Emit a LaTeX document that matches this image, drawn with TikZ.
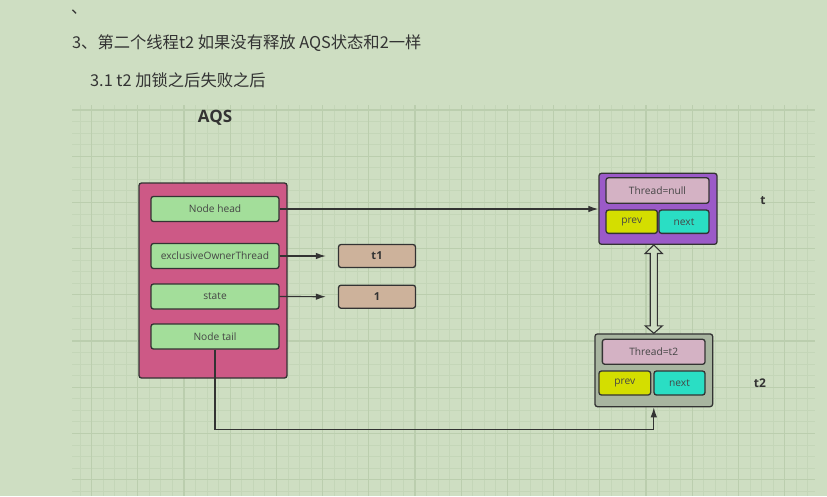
\documentclass[tikz,border=0pt]{standalone}
\usepackage{fontspec}
\setmainfont{Noto Sans CJK SC}
\newfontfamily\lat{Open Sans}
\usetikzlibrary{arrows.meta,calc}
\definecolor{bg}{HTML}{CEDEC2}
\definecolor{gminor}{HTML}{C4D6B8}
\definecolor{gmajor}{HTML}{BBCEAE}
\definecolor{dk}{HTML}{333333}
\definecolor{txt}{HTML}{454545}
\definecolor{aqspink}{HTML}{CD5986}
\definecolor{fieldgreen}{HTML}{A3DE9A}
\definecolor{tan}{HTML}{CDB29B}
\definecolor{purp}{HTML}{9B5AC8}
\definecolor{mauve}{HTML}{D4B2C4}
\definecolor{yel}{HTML}{D4DE00}
\definecolor{cyn}{HTML}{2ADEC4}
\definecolor{graybox}{HTML}{A8B5A0}
\tikzset{
  minorline/.style={draw=gminor, line width=0.8pt},
  majorline/.style={draw=gmajor, line width=1.1pt},
  box/.style={draw=dk, line width=1.3pt, rounded corners=2.5pt, inner sep=0pt, text=txt,
    font=\lat\fontsize{10.2}{12}\selectfont},
  field/.style={box, fill=fieldgreen, minimum width=128pt, minimum height=25pt},
  valbox/.style={box, fill=tan, minimum width=77pt, minimum height=23pt, text=dk,
    font=\lat\bfseries\fontsize{11}{12}\selectfont},
  arr/.style={draw=dk, line width=1.2pt, -{Latex[length=10pt,width=6.5pt]}},
  dbl/.style={draw=dk, line width=1.1pt, fill=bg, line join=miter},
  lbl/.style={text=dk, font=\lat\bfseries\fontsize{12}{14}\selectfont, inner sep=0pt},
  titletext/.style={text=dk, inner sep=0pt, font=\fontsize{16.3}{19}\selectfont}
}
\begin{document}
\begin{tikzpicture}[x=1pt,y=-1pt]
\fill[bg] (0,0) rectangle (827,496);
\useasboundingbox (0,0) rectangle (827,496);
% grid
\foreach \k in {0,...,63} {
  \pgfmathsetmacro\xx{80+11.55*\k}
  \draw[minorline] (\xx,105) -- (\xx,496);
}
\foreach \k in {0,...,33} {
  \pgfmathsetmacro\yy{110+11.55*\k}
  \draw[minorline] (72,\yy) -- (815,\yy);
}
\foreach \k in {0,...,15} {
  \pgfmathsetmacro\xx{91.55+46.2*\k}
  \draw[majorline] (\xx,105) -- (\xx,496);
}
\foreach \k in {0,...,8} {
  \pgfmathsetmacro\yy{110+46.2*\k}
  \draw[majorline] (72,\yy) -- (815,\yy);
}
% texts at top
\node[titletext, anchor=base west] (comma) at (71,13) {、};
\node[titletext, anchor=base west] (title) at (72,48.5) {3、第二个线程t2 如果没有释放 AQS状态和2一样};
\node[titletext, anchor=base west] (sub) at (90,86.5) {3.1 t2 加锁之后失败之后};
\node[text=dk, inner sep=0pt, font=\lat\bfseries\fontsize{17}{19}\selectfont] (aqslbl) at (215,117.5) {AQS};
% AQS box
\node[box, fill=aqspink, minimum width=148pt, minimum height=195pt] (aqs) at (213,280.5) {};
\node[field] (head) at (215,209) {Node head};
\node[field] (excl) at (215,256) {exclusiveOwnerThread};
\node[field] (state) at (215,296.5) {state};
\node[field] (tail) at (215,336.5) {Node tail};
\node[valbox] (t1) at (377,256) {t1};
\node[valbox] (one) at (377,296.7) {1};
% t node
\node[box, fill=purp, minimum width=118pt, minimum height=71pt] (tbox) at (658,208.8) {};
\node[box, fill=mauve, minimum width=103pt, minimum height=25.5pt] (tthread) at (657.5,190.5) {Thread=null};
\node[box, fill=yel, minimum width=51.3pt, minimum height=23.3pt] (tprev) at (631.7,221.7) {prev};
\node[box, fill=cyn, minimum width=50pt, minimum height=23.3pt] (tnext) at (684,221.7) {next};
\node[lbl] (tlbl) at (763,200.5) {t};
% t2 node
\node[box, fill=graybox, minimum width=117.7pt, minimum height=72.7pt] (t2box) at (653.8,370.3) {};
\node[box, fill=mauve, minimum width=102.7pt, minimum height=25pt] (t2thread) at (653.7,351.8) {Thread=t2};
\node[box, fill=yel, minimum width=51.7pt, minimum height=24pt] (t2prev) at (624.8,383) {prev};
\node[box, fill=cyn, minimum width=51pt, minimum height=24pt] (t2next) at (679.5,383) {next};
\node[lbl] (t2lbl) at (760,383) {t2};
% connectors
\draw[arr] (head.east) -- (head.east -| tbox.west);
\draw[arr] (excl.east) -- ($(t1.west)+(-12,0)$);
\draw[arr] (state.east) -- ($(one.west)+(-12,0)$);
\draw[arr] (tail.south) -- ++(0,80) -| (t2box.south);
% double hollow arrow
\coordinate (dtop) at (tbox.south -| t2box.north);
\draw[dbl] (dtop) -- ++(8.6,8.5) -- ++(-5,0) -- ($(t2box.north)+(3.6,-7.5)$) -- ++(5,0)
  -- (t2box.north) -- ++(-8.6,-7.5) -- ++(5,0) -- ($(dtop)+(-3.6,8.5)$) -- ++(-5,0) -- cycle;
\end{tikzpicture}
\end{document}
